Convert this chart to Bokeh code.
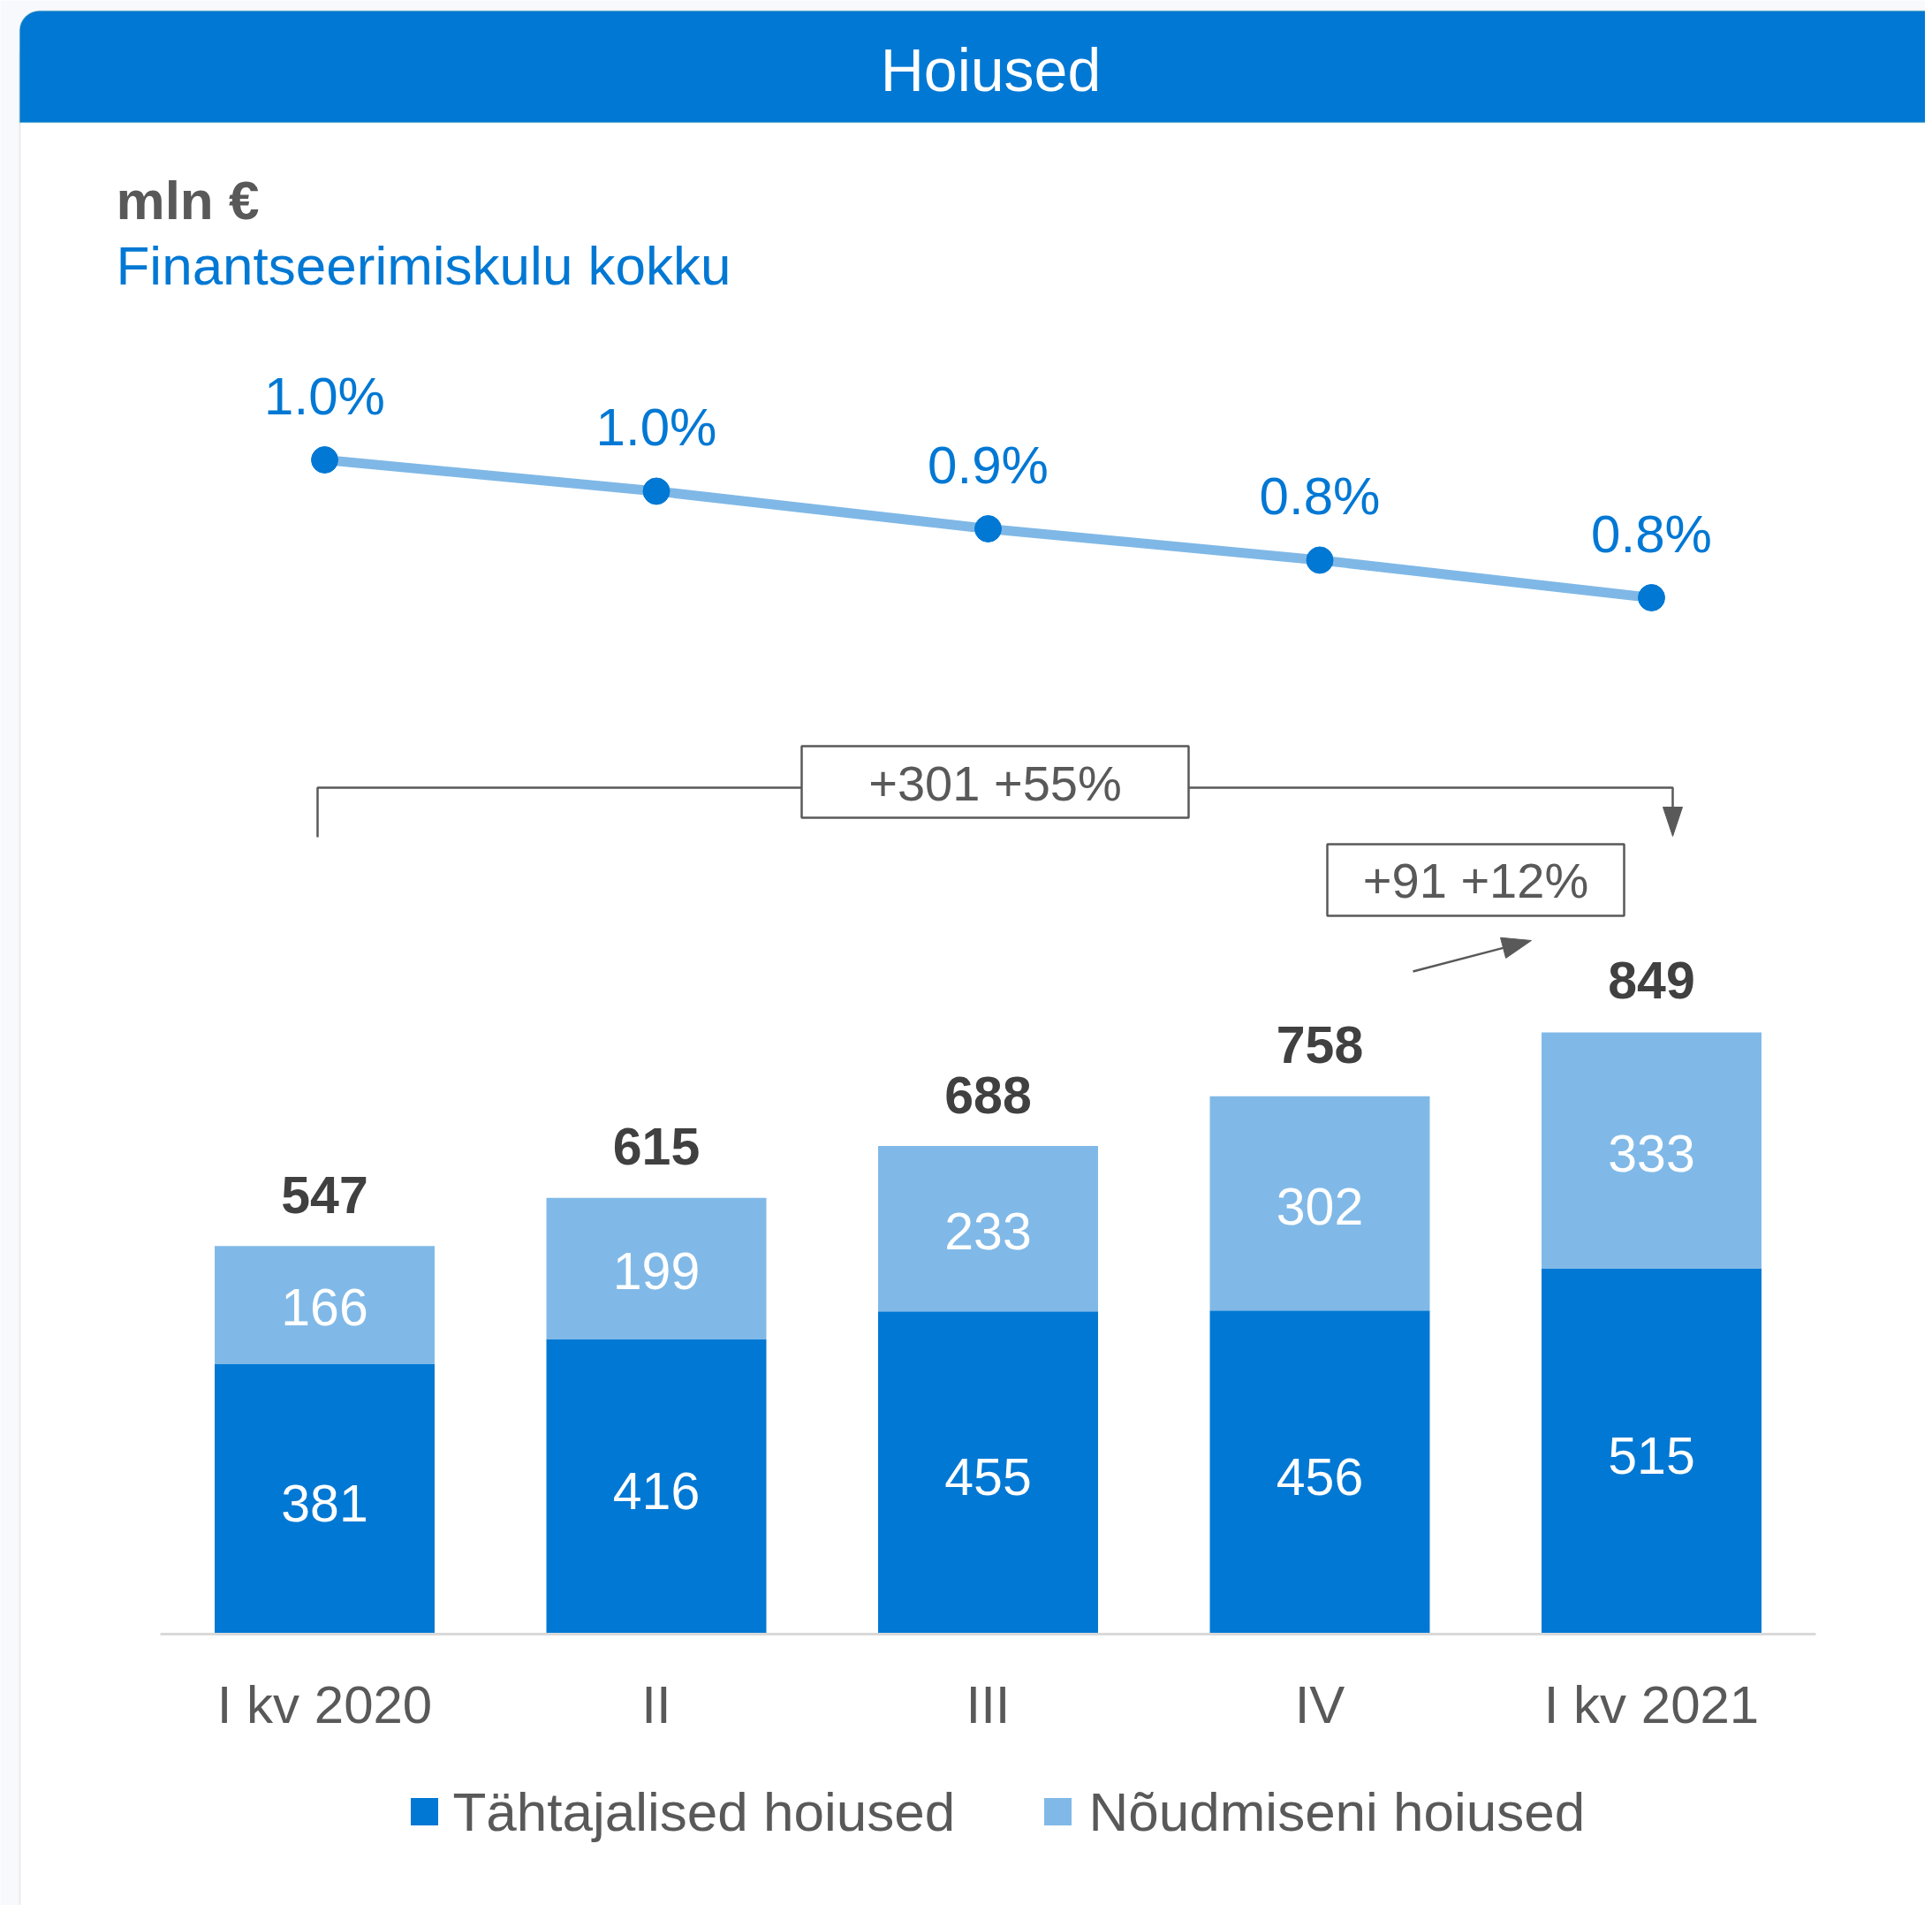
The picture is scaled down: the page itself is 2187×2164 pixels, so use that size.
from bokeh.plotting import figure
from bokeh.models import Range1d, BoxAnnotation, ColumnDataSource
from bokeh.core.properties import value
from bokeh.embed import file_html
from bokeh.resources import INLINE

# ---------------- data ----------------
categories = ["I kv 2020", "II", "III", "IV", "I kv 2021"]
tahtajalised = [381, 416, 455, 456, 515]
noudmiseni = [166, 199, 233, 302, 333]
totals = [547, 615, 688, 758, 849]
finants_pct = [1.00, 0.95, 0.89, 0.84, 0.78]
finants_labels = ["1.0%", "1.0%", "0.9%", "0.8%", "0.8%"]
series_names = ["Tähtajalised hoiused", "Nõudmiseni hoiused"]
title_text = "Hoiused"
unit_text = "mln €"
line_title = "Finantseerimiskulu kokku"
change_year = "+301 +55%"
change_quarter = "+91 +12%"

# ---------------- style ----------------
DARK = "#0078d4"
LIGHT = "#80b9e7"
GREY = "#595959"
DGREY = "#404040"
FONT = value("Liberation Sans")

# page pixel -> data helpers (layout only)
X0, DX = 367.0, 375.5      # x index 0 at page px 367, 375.5 px per category
Y0, DY = 1849.0, 0.803     # value 0 at page px 1849, 0.803 px per mln
P0, DP = 520.0, 709.1      # pct 1.00 at page px 520, 709.1 px per 1 pp
ORG = 0                    # page px of the canvas origin


def X(px):
    return (px - X0) / DX


def Y(py):
    return (Y0 - py) / DY


def PY(py):
    return 1.00 + (P0 - py) / DP


W, H = 2179, 2156
p = figure(width=W, height=H, output_backend="svg", toolbar_location=None,
           x_range=Range1d(X(ORG), X(ORG + W)), y_range=Range1d(Y(ORG + H), Y(ORG)),
           x_axis_type=None, y_axis_type=None, min_border=0,
           background_fill_color="#f8f9fc", border_fill_color="#f8f9fc")
p.outline_line_color = None
p.extra_y_ranges = {"pct": Range1d(PY(ORG + H), PY(ORG))}

# card and header
p.add_layout(BoxAnnotation(left=X(22), right=X(2400), top=Y(60), bottom=Y(2400),
                           fill_color="white", fill_alpha=1.0, line_color="#c4c4c4",
                           line_width=2, level="underlay"))
p.add_layout(BoxAnnotation(left=X(22), right=X(2400), top=Y(12), bottom=Y(138),
                           fill_color=DARK, fill_alpha=1.0, line_color="#14889c",
                           line_width=1.5, border_radius=(22, 0, 0, 0), level="underlay"))

p.text(x=[X(1121)], y=[Y(78)], text=[title_text], text_font=FONT, text_font_size="68px",
       text_color="white", text_align="center", text_baseline="middle")
p.text(x=[X(131)], y=[Y(226)], text=[unit_text], text_font=FONT, text_font_size="62px",
       text_font_style="bold", text_color=GREY, text_align="left", text_baseline="middle")
p.text(x=[X(131)], y=[Y(300)], text=[line_title], text_font=FONT, text_font_size="62px",
       text_color=DARK, text_align="left", text_baseline="middle")

idx = list(range(len(categories)))

# ---------------- line (financing cost) ----------------
lsrc = ColumnDataSource(dict(x=idx, y=finants_pct, lab=finants_labels))
p.line("x", "y", source=lsrc, y_range_name="pct", line_color="#7fb8e6", line_width=11)
p.scatter("x", "y", source=lsrc, y_range_name="pct", size=30, fill_color=DARK,
          line_color=DARK)
p.text("x", "y", text="lab", source=lsrc, y_range_name="pct", y_offset=-72,
       text_font=FONT, text_font_size="60px", text_color=DARK,
       text_align="center", text_baseline="middle")

# ---------------- stacked bars ----------------
bsrc = ColumnDataSource(dict(
    x=idx, t=tahtajalised, n=noudmiseni, tot=totals,
    t_mid=[v / 2 for v in tahtajalised],
    n_mid=[a + b / 2 for a, b in zip(tahtajalised, noudmiseni)],
    t_lab=[str(v) for v in tahtajalised],
    n_lab=[str(v) for v in noudmiseni],
    tot_lab=[str(v) for v in totals],
    cat=categories,
))
p.vbar_stack(["t", "n"], x="x", width=0.663, color=[DARK, LIGHT], line_color=None,
             source=bsrc)

p.text("x", "t_mid", text="t_lab", source=bsrc, y_offset=5, text_font=FONT,
       text_font_size="59px", text_color="white", text_align="center",
       text_baseline="middle")
p.text("x", "n_mid", text="n_lab", source=bsrc, y_offset=3, text_font=FONT,
       text_font_size="59px", text_color="white", text_align="center",
       text_baseline="middle")
p.text("x", "tot", text="tot_lab", source=bsrc, y_offset=-58, text_font=FONT,
       text_font_size="59px", text_font_style="bold", text_color=DGREY,
       text_align="center", text_baseline="middle")

# baseline
p.line([X(181), X(2055)], [0, 0], line_color="#d9d9d9", line_width=3)

# category labels
p.text("x", 0, text="cat", source=bsrc, y_offset=80, text_font=FONT,
       text_font_size="60px", text_color=GREY, text_align="center",
       text_baseline="middle")

# ---------------- change annotations ----------------
p.line([X(359), X(359), X(1893), X(1893)], [Y(947), Y(891), Y(891), Y(915)],
       line_color=GREY, line_width=2.5)
p.patch([X(1882), X(1904), X(1893)], [Y(913), Y(913), Y(946)], fill_color=GREY,
        line_color=GREY)
p.quad(left=[X(907)], right=[X(1345)], top=[Y(844)], bottom=[Y(925)],
       fill_color="white", line_color=GREY, line_width=2.5)
p.text(x=[X(1126)], y=[Y(886)], text=[change_year], text_font=FONT, text_font_size="56px",
       text_color=GREY, text_align="center", text_baseline="middle")

p.quad(left=[X(1502)], right=[X(1838)], top=[Y(955)], bottom=[Y(1036)],
       fill_color="white", line_color=GREY, line_width=2.5)
p.text(x=[X(1670)], y=[Y(996)], text=[change_quarter], text_font=FONT,
       text_font_size="56px", text_color=GREY, text_align="center", text_baseline="middle")

# small arrow
sx, sy, tx, ty = 1599.0, 1099.0, 1733.0, 1064.0
dx, dy = tx - sx, ty - sy
ln = (dx * dx + dy * dy) ** 0.5
ux, uy = dx / ln, dy / ln
nx, ny = -uy, ux
bx, by = tx - 33 * ux, ty - 33 * uy
p.line([X(sx), X(bx)], [Y(sy), Y(by)], line_color=GREY, line_width=2.5)
p.patch([X(bx + 12 * nx), X(bx - 12 * nx), X(tx)],
        [Y(by + 12 * ny), Y(by - 12 * ny), Y(ty)], fill_color=GREY, line_color=GREY)

# ---------------- legend ----------------
p.scatter([X(480), X(1197)], [Y(2050), Y(2050)], marker="square", size=31,
          fill_color=[DARK, LIGHT], line_color=None)
p.text(x=[X(512), X(1232)], y=[Y(2050), Y(2050)], text=series_names, text_font=FONT,
       text_font_size="62px", text_color=GREY, text_align="left", text_baseline="middle")

open("out.html", "w").write(file_html(p, INLINE))
